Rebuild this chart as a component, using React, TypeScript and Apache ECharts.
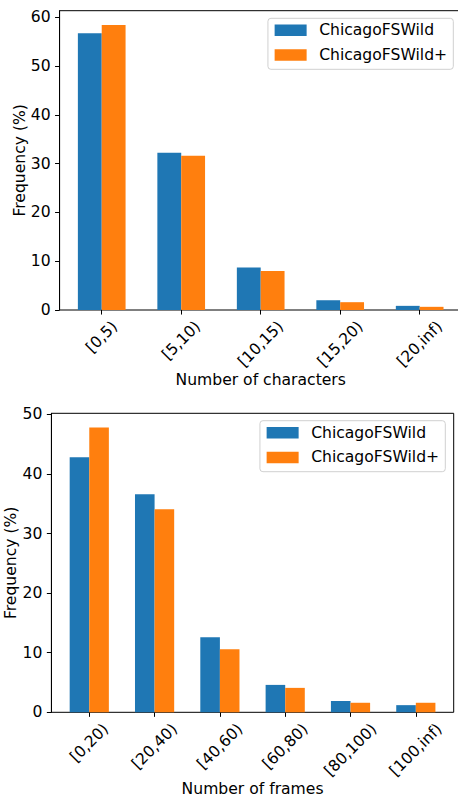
import React, { useEffect, useRef } from 'react';
import * as echarts from 'echarts';

const seriesNames = ['ChicagoFSWild', 'ChicagoFSWild+'];
const colors = ['#1f77b4', '#ff7f0e'];

const charCategories = ['[0,5)', '[5,10)', '[10,15)', '[15,20)', '[20,inf)'];
const charWild = [56.7, 32.2, 8.7, 2.0, 0.85];
const charWildPlus = [58.4, 31.6, 8.0, 1.6, 0.65];
const charTicks = [0, 10, 20, 30, 40, 50, 60];

const frameCategories = ['[0,20)', '[20,40)', '[40,60)', '[60,80)', '[80,100)', '[100,inf)'];
const frameWild = [42.8, 36.6, 12.6, 4.6, 1.9, 1.2];
const frameWildPlus = [47.8, 34.1, 10.6, 4.1, 1.6, 1.6];
const frameTicks = [0, 10, 20, 30, 40, 50];

const FS = 15.6;
const FF = 'DejaVu Sans';

function measure(t: string): number {
  const ctx = document.createElement('canvas').getContext('2d');
  if (!ctx) return t.length * FS * 0.6;
  ctx.font = `${FS}px "${FF}"`;
  return ctx.measureText(t).width;
}

function catLabel(cats: string[], key: string) {
  const rich: any = {};
  cats.forEach((c, i) => {
    const p = measure(c) / 2;
    rich[key + i] = { padding: [p, p, 0, 0], fontSize: FS, fontFamily: FF, color: '#000', lineHeight: 18 };
  });
  return {
    interval: 0,
    rotate: 45,
    align: 'center',
    verticalAlign: 'middle',
    margin: 14,
    hideOverlap: false,
    formatter: (v: string, i: number) => `{${key}${i}|${v}}`,
    rich,
    fontSize: FS,
    fontFamily: FF,
    color: '#000',
  };
}

const txt = { fontSize: FS, fontFamily: FF, color: '#000' };

function frameY(gridIndex: number, max: number, ticks: number[]) {
  return {
    gridIndex,
    type: 'value',
    min: 0,
    max,
    interval: 10,
    axisLine: { show: true, lineStyle: { color: '#000', width: 1 } },
    axisTick: { show: true, length: 4.55, lineStyle: { color: '#000', width: 1 }, customValues: ticks },
    axisLabel: { ...txt, margin: 9, customValues: ticks },
    splitLine: { show: false },
    name: 'Frequency (%)',
    nameLocation: 'middle',
    nameGap: 32,
    nameMoveOverlap: false,
    nameTextStyle: txt,
  };
}

function barX(gridIndex: number, cats: string[], key: string, name: string, nameGap: number) {
  return {
    gridIndex,
    type: 'category',
    data: cats,
    axisLine: { show: false },
    axisTick: { show: true, alignWithLabel: true, length: 4.55, lineStyle: { color: '#000', width: 1 } },
    axisLabel: catLabel(cats, key),
    splitLine: { show: false },
    name,
    nameLocation: 'middle',
    nameGap,
    nameMoveOverlap: false,
    nameTextStyle: txt,
  };
}

function legend(right: number, top: number) {
  return {
    data: seriesNames,
    orient: 'vertical',
    align: 'left',
    right,
    top,
    icon: 'rect',
    itemWidth: 32,
    itemHeight: 11.5,
    itemGap: 6.7,
    padding: [3, 6.2, 5.3, 6.7],
    borderColor: '#d0d0d0',
    borderWidth: 1,
    borderRadius: 3,
    backgroundColor: 'rgba(255,255,255,0.8)',
    selectedMode: false,
    itemStyle: { borderWidth: 0 },
    textStyle: { ...txt, lineHeight: 18, padding: [0, 0, 0, 7.5] },
  };
}

export default function App() {
  const ref = useRef<HTMLDivElement>(null);
  useEffect(() => {
    const chart = echarts.init(ref.current!, null, { renderer: 'svg' });
    const topMax = Math.max(...charWild, ...charWildPlus) * 1.05;
    const botMax = Math.max(...frameWild, ...frameWildPlus) * 1.05;
    const gridBase = { containLabel: false, outerBoundsMode: 'none' };
    const option: any = {
      animation: false,
      textStyle: { fontFamily: FF },
      grid: [
        { ...gridBase, left: 59.6, width: 402.2, top: 10.7, height: 299.3, show: true, borderColor: '#000', borderWidth: 1, backgroundColor: 'transparent' },
        { ...gridBase, left: 61.98, width: 397.44, top: 10.7, height: 299.3 },
        { ...gridBase, left: 51.4, width: 402.3, top: 413.3, height: 299, show: true, borderColor: '#000', borderWidth: 1, backgroundColor: 'transparent' },
        { ...gridBase, left: 56.62, width: 391.86, top: 413.3, height: 299 },
      ],
      xAxis: [
        { gridIndex: 0, type: 'value', min: 0, max: 1, show: false },
        barX(1, charCategories, 'a', 'Number of characters', 62),
        { gridIndex: 2, type: 'value', min: 0, max: 1, show: false },
        barX(3, frameCategories, 'b', 'Number of frames', 69),
      ],
      yAxis: [
        frameY(0, topMax, charTicks),
        { gridIndex: 1, type: 'value', min: 0, max: topMax, show: false },
        frameY(2, botMax, frameTicks),
        { gridIndex: 3, type: 'value', min: 0, max: botMax, show: false },
      ],
      legend: [legend(4.7, 18.3), legend(12.7, 420.7)],
      series: [
        { type: 'bar', name: seriesNames[0], xAxisIndex: 1, yAxisIndex: 1, data: charWild, barWidth: '30%', barGap: '0%', itemStyle: { color: colors[0] } },
        { type: 'bar', name: seriesNames[1], xAxisIndex: 1, yAxisIndex: 1, data: charWildPlus, barWidth: '30%', barGap: '0%', itemStyle: { color: colors[1] } },
        { type: 'bar', name: seriesNames[0], xAxisIndex: 3, yAxisIndex: 3, data: frameWild, barWidth: '30%', barGap: '0%', itemStyle: { color: colors[0] } },
        { type: 'bar', name: seriesNames[1], xAxisIndex: 3, yAxisIndex: 3, data: frameWildPlus, barWidth: '30%', barGap: '0%', itemStyle: { color: colors[1] } },
      ],
    };
    chart.setOption(option);
    return () => chart.dispose();
  }, []);
  return <div ref={ref} style={{ position: 'absolute', left: 0, top: 0, width: 458, height: 798 }} />;
}
